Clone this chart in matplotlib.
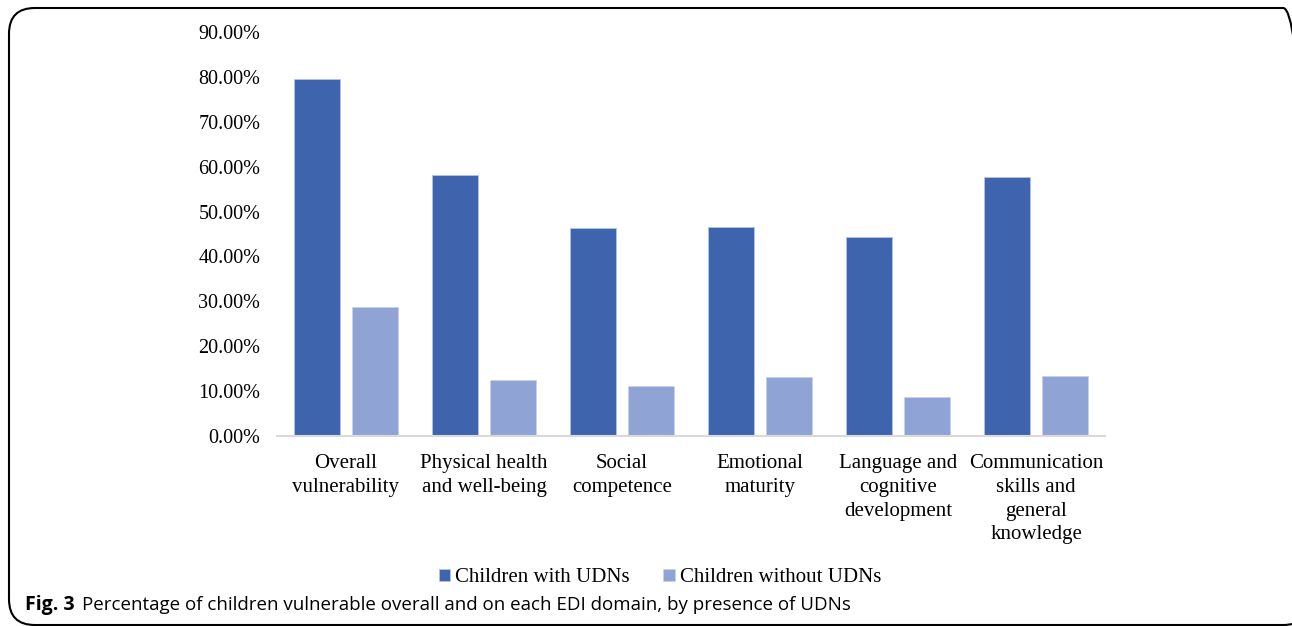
import matplotlib.pyplot as plt
import numpy as np
from matplotlib.patches import FancyBboxPatch
from matplotlib.ticker import FuncFormatter

# Data (fraction of children vulnerable)
categories = ["Overall\nvulnerability", "Physical health\nand well-being", "Social\ncompetence",
              "Emotional\nmaturity", "Language and\ncognitive\ndevelopment",
              "Communication\nskills and\ngeneral\nknowledge"]
with_udns = [0.795, 0.581, 0.463, 0.465, 0.443, 0.577]
without_udns = [0.287, 0.125, 0.111, 0.131, 0.087, 0.134]
series_names = ["Children with UDNs", "Children without UDNs"]

dark = "#3e64ad"
light = "#8fa3d5"
serif = "Liberation Serif"

fig = plt.figure(figsize=(12.92, 6.26), dpi=100)

# rounded frame around the whole figure
frame = FancyBboxPatch((9 / 1292, 1 / 626), 1300 / 1292, 617 / 626,
                       boxstyle="round,pad=0,rounding_size=0.02",
                       transform=fig.transFigure, fill=False, edgecolor="black",
                       linewidth=1.5, mutation_aspect=1292 / 626)
fig.patches.append(frame)

ax = fig.add_axes([277 / 1292, 190 / 626, 828 / 1292, 404 / 626])

x = np.arange(len(categories))
width = 0.337
off = 0.21
ax.bar(x - off, with_udns, width, color=dark, edgecolor="#b4c3e6", linewidth=0.6, label=series_names[0])
ax.bar(x + off, without_udns, width, color=light, edgecolor="#c6d1ec", linewidth=0.6, label=series_names[1])

ax.set_xlim(-0.5, len(categories) - 0.5)
ax.set_ylim(0, 0.9)
ax.set_yticks(np.arange(0, 0.91, 0.1))
ax.yaxis.set_major_formatter(FuncFormatter(lambda v, p: "%.2f%%" % (v * 100)))
ax.set_xticks(x)
ax.set_xticklabels(categories, fontfamily=serif, fontsize=15, linespacing=1.34)
for lab in ax.get_yticklabels():
    lab.set_fontfamily(serif)
    lab.set_fontsize(14.5)

for s in ["top", "right", "left"]:
    ax.spines[s].set_visible(False)
ax.spines["bottom"].set_color("#d9d9d9")
ax.spines["bottom"].set_linewidth(1.5)
ax.tick_params(axis="both", length=0)
ax.tick_params(axis="y", pad=12)
ax.tick_params(axis="x", pad=13)

fig.legend(loc="center", bbox_to_anchor=(660 / 1292, 1 - 578 / 626), ncol=2, frameon=False,
           prop={"family": serif, "size": 15}, handlelength=0.55, handleheight=0.55,
           handletextpad=0.25, columnspacing=1.6)

fig.text(25 / 1292, 1 - 605 / 626, "Fig. 3", fontfamily="Open Sans", fontweight="bold",
         fontsize=14, va="center", ha="left")
fig.text(82 / 1292, 1 - 605 / 626,
         "Percentage of children vulnerable overall and on each EDI domain, by presence of UDNs",
         fontfamily="Open Sans", fontsize=13.5, va="center", ha="left")

fig.savefig("out.png", dpi=100)
